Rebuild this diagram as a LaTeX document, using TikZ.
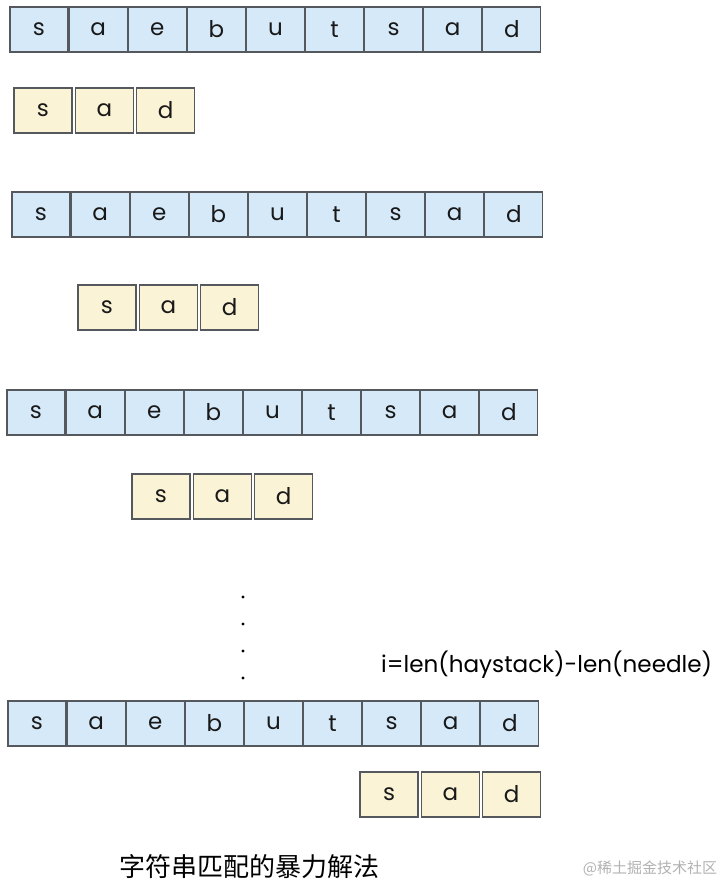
\documentclass[tikz,border=0pt]{standalone}
\usepackage{fontspec}
\usepackage{graphicx}
\newfontfamily\cellfont{Poppins}
\newfontfamily\cjk{Noto Sans CJK SC}
\definecolor{hayfill}{RGB}{214,233,249}
\definecolor{needfill}{RGB}{251,243,214}
\definecolor{cellline}{RGB}{85,88,92}
\definecolor{wmgray}{RGB}{178,178,178}
\tikzset{
  cellbox/.style={draw=cellline, line width=1.1pt, minimum width=58pt, minimum height=45pt,
    inner sep=0pt, font=\cellfont\fontsize{23}{26}\selectfont, text=black!90},
  hay/.style={cellbox, fill=hayfill},
  need/.style={cellbox, fill=needfill},
  dotmark/.style={circle, fill=black, inner sep=0pt, minimum size=3.2pt},
}
\newcommand\hayrow[3]{%
  \foreach \ch [count=\i from 0] in {s,a,e,b,u,t,s,a,d} {
    \node[hay] (h#1\i) at ({#2+29+\i*59.1},{#3+22.5}) {\ch};
  }}
\newcommand\needrow[3]{%
  \foreach \ch [count=\i from 0] in {s,a,d} {
    \node[need] (n#1\i) at ({#2+29+\i*61.3},{#3+22.5}) {\ch};
  }}
\begin{document}
\begin{tikzpicture}[x=1pt,y=-1pt]
\useasboundingbox (0,0) rectangle (720,891);
\fill[white] (0,0) rectangle (720,891);
\hayrow{a}{10}{7}
\needrow{a}{14}{88}
\hayrow{b}{12}{192}
\needrow{b}{78}{285}
\hayrow{c}{7}{390}
\needrow{c}{132}{474}
\hayrow{d}{8}{701}
\needrow{d}{360}{772}
\node[dotmark] (p1) at (243,597) {};
\node[dotmark] (p2) at (243,624) {};
\node[dotmark] (p3) at (243,651) {};
\node[dotmark] (p4) at (243,678) {};
\node[anchor=base west, inner sep=0pt, font=\cellfont\fontsize{20}{24}\selectfont] (formula) at (381,672)
  {\resizebox{331pt}{!}{i=len(haystack)-len(needle)}};
\node[inner sep=0pt, font=\cjk\fontsize{26}{29}\selectfont] (caption) at (249,867) {字符串匹配的暴力解法};
\node[inner sep=0pt, font=\cjk\fontsize{15}{18}\selectfont, text=wmgray] (wm) at (650,868) {@稀土掘金技术社区};
\end{tikzpicture}
\end{document}
